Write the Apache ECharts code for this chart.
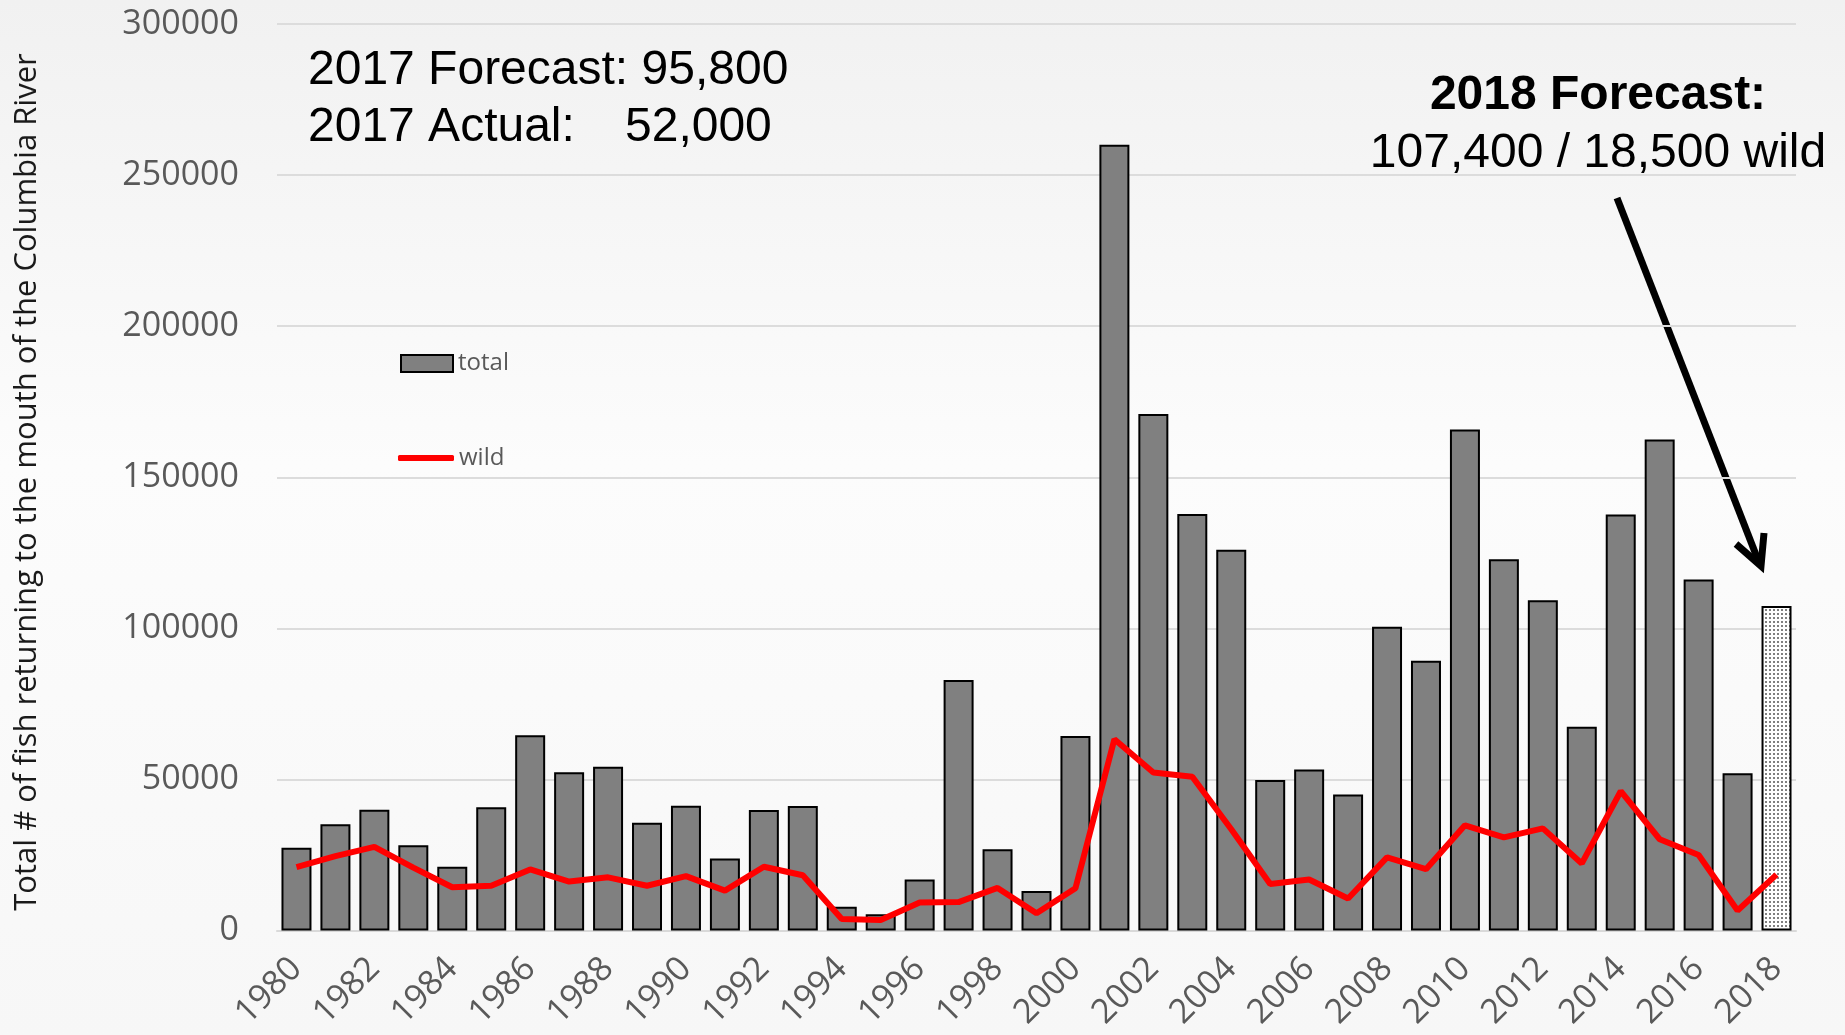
<!DOCTYPE html>
<html>
<head>
<meta charset="utf-8">
<script src="https://cdn.jsdelivr.net/npm/echarts@6/dist/echarts.min.js"></script>
<style>
html,body{margin:0;padding:0;background:#f7f7f7;}
#chart{width:1845px;height:1035px;}
</style>
</head>
<body>
<div id="chart"></div>
<script>
const years = ['1980','1981','1982','1983','1984','1985','1986','1987','1988','1989',
  '1990','1991','1992','1993','1994','1995','1996','1997','1998','1999',
  '2000','2001','2002','2003','2004','2005','2006','2007','2008','2009',
  '2010','2011','2012','2013','2014','2015','2016','2017','2018'];
const totalValues = [27400, 35200, 40000, 28200, 21100, 40800, 64600, 52400, 54200, 35700,
  41300, 23800, 39900, 41200, 7900, 5400, 16900, 82900, 26900, 13100,
  64400, 260000, 170900, 137800, 126000, 49800, 53300, 45000, 100500, 89300,
  165800, 122900, 109300, 67400, 137700, 162500, 116200, 52000, 107400];
const wildValues = [21000, 24600, 27700, 20800, 14300, 14800, 20200, 16200, 17600, 14800,
  18000, 13200, 21100, 18300, 3800, 3500, 9300, 9400, 14100, 5700,
  14000, 63300, 52300, 50900, 33500, 15400, 16900, 10600, 24200, 20300,
  34800, 30800, 33800, 22200, 46100, 30200, 25000, 6600, 18500];
const forecastYear = '2018';
const yTicks = [0, 50000, 100000, 150000, 200000, 250000, 300000];

// dotted pattern for forecast bar
const pc = document.createElement('canvas');
pc.width = 4; pc.height = 4;
const pctx = pc.getContext('2d');
pctx.fillStyle = '#ffffff'; pctx.fillRect(0, 0, 4, 4);
pctx.fillStyle = '#808080'; pctx.fillRect(1, 1, 2, 2);

const barData = totalValues.map((v, i) => years[i] === forecastYear
  ? { value: v, itemStyle: { color: { image: pc, repeat: 'repeat' } } }
  : v);

const chart = echarts.init(document.getElementById('chart'));
const option = {
  animation: false,
  backgroundColor: {
    type: 'linear', x: 0, y: 0, x2: 0, y2: 1,
    colorStops: [
      { offset: 0, color: '#f1f1f1' },
      { offset: 0.45, color: '#fcfcfc' },
      { offset: 1, color: '#f7f7f7' }
    ]
  },
  grid: { left: 277, right: 49, top: 24, bottom: 104.5, containLabel: false },
  legend: [
    {
      data: [{ name: 'total', icon: 'rect', itemStyle: { color: '#808080', borderColor: '#000', borderWidth: 2 } }],
      left: 400, top: 351.5, padding: 0, itemWidth: 52, itemHeight: 17, selectedMode: false,
      textStyle: { fontFamily: 'Open Sans', fontSize: 24, color: '#595959' }
    },
    {
      data: [{ name: 'wild', icon: 'roundRect', itemStyle: { color: '#ff0000' } }],
      left: 398, top: 446, padding: 0, itemWidth: 56, itemHeight: 6, selectedMode: false,
      textStyle: { fontFamily: 'Open Sans', fontSize: 24, color: '#595959' }
    }
  ],
  xAxis: {
    type: 'category',
    data: years,
    boundaryGap: true,
    axisLine: { show: true, lineStyle: { color: '#d9d9d9', width: 2 } },
    axisTick: { show: false },
    axisLabel: {
      interval: 1, rotate: 45, margin: 33,
      fontFamily: 'Open Sans', fontSize: 34, color: '#595959'
    },
    splitLine: { show: false }
  },
  yAxis: {
    type: 'value',
    min: yTicks[0], max: yTicks[yTicks.length - 1], interval: 50000,
    axisLine: { show: false },
    axisTick: { show: false },
    axisLabel: {
      margin: 38, fontFamily: 'Open Sans', fontSize: 34, color: '#595959',
      padding: [0, 0, 5, 0],
      formatter: v => String(v)
    },
    splitLine: { show: true, lineStyle: { color: '#dcdcdc', width: 2 } }
  },
  series: [
    {
      name: 'total', type: 'bar', data: barData, barWidth: '77%',
      itemStyle: { color: '#808080', borderColor: '#000000', borderWidth: 2 },
      z: 2
    },
    {
      name: 'wild', type: 'line', data: wildValues, symbol: 'none',
      lineStyle: { color: '#ff0000', width: 6 },
      itemStyle: { color: '#ff0000' },
      z: 3
    }
  ],
  graphic: [
    {
      type: 'text', x: 27, y: 482, rotation: Math.PI / 2,
      style: {
        text: 'Total # of fish returning to the mouth of the Columbia River',
        font: '31px "Open Sans"', fill: '#1a1a1a', align: 'center', verticalAlign: 'middle'
      }
    },
    {
      type: 'text', x: 308, y: 71,
      style: { text: '2017 Forecast: 95,800', font: '48px "Liberation Sans", Arial', fill: '#000', align: 'left', verticalAlign: 'middle' }
    },
    {
      type: 'text', x: 308, y: 128,
      style: { text: '2017 Actual:', font: '48px "Liberation Sans", Arial', fill: '#000', align: 'left', verticalAlign: 'middle' }
    },
    {
      type: 'text', x: 625, y: 128,
      style: { text: '52,000', font: '48px "Liberation Sans", Arial', fill: '#000', align: 'left', verticalAlign: 'middle' }
    },
    {
      type: 'text', x: 1598, y: 96,
      style: { text: '2018 Forecast:', font: 'bold 48px "Liberation Sans", Arial', fill: '#000', align: 'center', verticalAlign: 'middle' }
    },
    {
      type: 'text', x: 1598, y: 154,
      style: { text: '107,400 / 18,500 wild', font: '48px "Liberation Sans", Arial', fill: '#000', align: 'center', verticalAlign: 'middle' }
    },
    {
      type: 'line', shape: { x1: 1617, y1: 198, x2: 1758, y2: 560 },
      style: { stroke: '#000', lineWidth: 7 }
    },
    {
      type: 'polyline', shape: { points: [[1736, 544], [1761, 566], [1764, 533]] },
      style: { stroke: '#000', lineWidth: 7, fill: null, lineJoin: 'miter' }
    }
  ]
};
chart.setOption(option);
</script>
</body>
</html>
